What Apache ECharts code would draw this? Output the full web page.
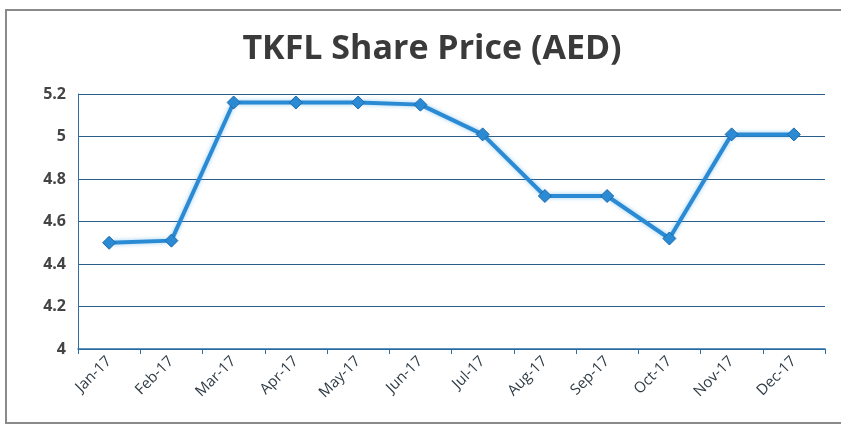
<!DOCTYPE html>
<html><head><meta charset="utf-8">
<script src="https://cdn.jsdelivr.net/npm/echarts@6/dist/echarts.min.js"></script>
<style>html,body{margin:0;padding:0;background:#fff}#c{width:841px;height:432px}</style>
</head><body><div id="c"></div>
<script>
const categories = ['Jan-17','Feb-17','Mar-17','Apr-17','May-17','Jun-17','Jul-17','Aug-17','Sep-17','Oct-17','Nov-17','Dec-17'];
const prices = [4.50, 4.51, 5.16, 5.16, 5.16, 5.15, 5.01, 4.72, 4.72, 4.52, 5.01, 5.01];
const title = 'TKFL Share Price (AED)';

const chart = echarts.init(document.getElementById('c'));
chart.setOption({
  backgroundColor: '#fff',
  graphic: [{type:'rect', shape:{x:6,y:10,width:850,height:413}, style:{fill:'none', stroke:'#8a8a8a', lineWidth:2}}],
  title: {text: title, left: 427, top: 27, textAlign:'center',
    textStyle:{fontFamily:'Open Sans', fontWeight:'bold', fontSize:34, color:'#3a3a3a'}},
  grid: {left: 78, right: 16, top: 94, bottom: 83, containLabel:false},
  xAxis: {type:'category', data: categories, boundaryGap:true,
    axisLine:{lineStyle:{color:'#2a6fa8', width:1.5}},
    axisTick:{show:true, alignWithLabel:false, length:5, lineStyle:{color:'#2a6fa8'}},
    axisLabel:{rotate:45, fontFamily:'Open Sans', fontSize:15, color:'#2f3b45', margin:10}},
  yAxis: {type:'value', min:4, max:5.2, interval:0.2,
    axisLine:{show:true, lineStyle:{color:'#2a6fa8'}},
    axisTick:{show:false},
    axisLabel:{fontFamily:'Open Sans', fontWeight:'bold', fontSize:16, color:'#444', margin:12,
      formatter: v => String(Math.round(v*10)/10)},
    splitLine:{lineStyle:{color:'#2a5d8a', width:1.2}}},
  series: [{type:'line', data: prices, symbol:'diamond', symbolSize:13,
    lineStyle:{color:'#2b8ad4', width:4, shadowColor:'rgba(60,160,230,0.5)', shadowBlur:4},
    itemStyle:{color:'#2b8ad4', borderColor:'#1d6aa8', borderWidth:1},
    animation:false}]
});
</script></body></html>
